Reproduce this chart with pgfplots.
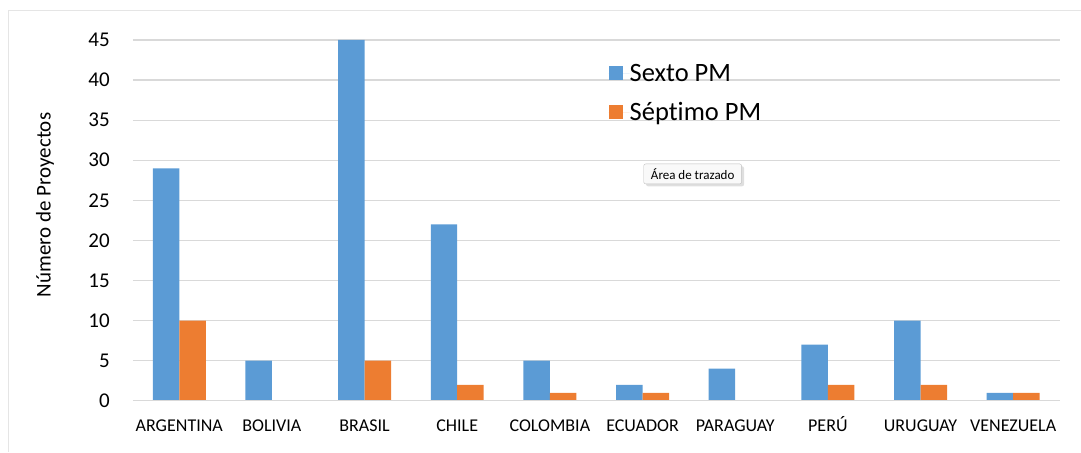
\documentclass[border=0pt]{standalone}
\usepackage{pgfplots}
\pgfplotsset{compat=1.18}
\usepackage{fontspec}
\setmainfont{Carlito}[Ligatures=NoCommon]
\usetikzlibrary{shadows}
\definecolor{sexto}{HTML}{5B9BD5}
\definecolor{septimo}{HTML}{ED7D31}
\definecolor{gridgray}{HTML}{D9D9D9}
\begin{document}
\begin{tikzpicture}
\begin{axis}[
    at={(0,0)}, anchor=south west,
    scale only axis, width=927pt, height=361pt,
    ybar=0pt, bar width=26.5pt,
    xmin=-0.5, xmax=9.5, ymin=0, ymax=45,
    xtick=data,
    xticklabels={ARGENTINA,BOLIVIA,BRASIL,CHILE,COLOMBIA,ECUADOR,PARAGUAY,PERÚ,URUGUAY,VENEZUELA},
    ytick={0,5,...,45},
    major tick length=0pt,
    axis line style={draw=none},
    axis x line*=bottom, axis y line*=left,
    ymajorgrids, grid style={gridgray, line width=1.3pt},
    /pgf/number format/assume math mode=true,
    yticklabel style={font=\fontsize{21}{21}\selectfont, inner sep=0pt, anchor=east, xshift=-23pt},
    xticklabel style={font=\fontsize{18}{18}\selectfont, inner sep=0pt, anchor=base, yshift=-31pt},
    legend style={at={(0.51,0.94)}, anchor=north west, draw=none, fill=none,
        font=\fontsize{26.5}{26.5}\selectfont, row sep=20pt,
        nodes={inner sep=0pt}},
    legend cell align=left,
    legend image code/.code={\fill[#1] (0pt,-7pt) rectangle (14pt,7pt);
        \path (0pt,0pt) -- (21pt,0pt);},
]
\addplot[fill=sexto, draw=none] coordinates
  {(0,29) (1,5) (2,45) (3,22) (4,5) (5,2) (6,4) (7,7) (8,10) (9,1)};
\addlegendentry{Sexto PM}
\addplot[fill=septimo, draw=none] coordinates
  {(0,10) (1,0) (2,5) (3,2) (4,1) (5,1) (6,0) (7,2) (8,2) (9,1)};
\addlegendentry{Séptimo PM}
\end{axis}
% x axis base line
\draw[gridgray, line width=1.3pt] (0,0) -- (927pt,0);
% y label
\node[rotate=90, font=\fontsize{21}{21}\selectfont] at (-88pt,196pt) {Número de Proyectos};
% tooltip
\node[draw=gray!50, fill=gray!5, rounded corners=2pt, drop shadow={opacity=0.25},
      font=\fontsize{13}{13}\selectfont, minimum width=98pt, minimum height=20pt, inner sep=2pt]
      at (560pt,227pt) {Área de trazado};
% outer frame
\draw[gray!20, line width=1pt] (-124pt,-51pt) -- (-124pt,390pt) -- (948pt,390pt);
\path[use as bounding box] (-133pt,-51pt) rectangle (948pt,401pt);
\end{tikzpicture}
\end{document}
